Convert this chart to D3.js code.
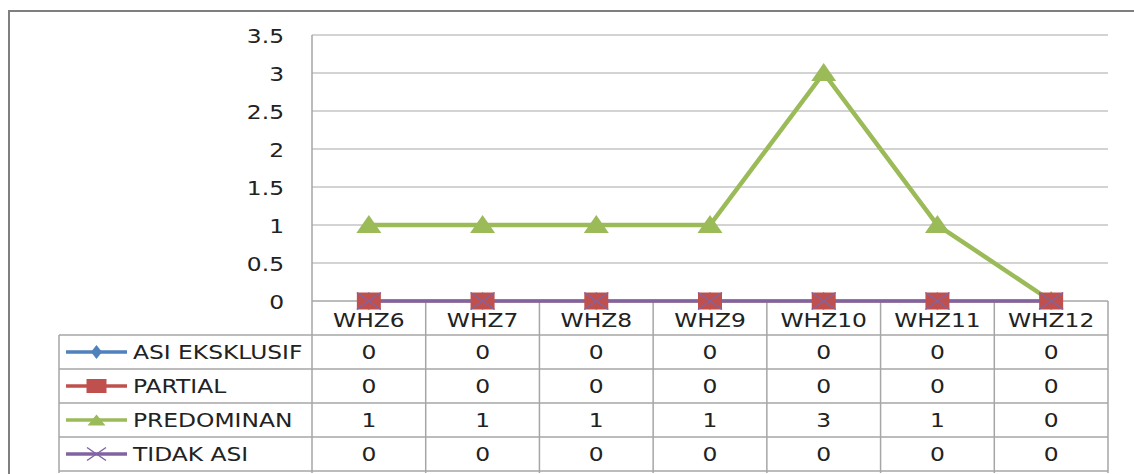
<!DOCTYPE html>
<html><head><meta charset="utf-8">
<script src="https://cdn.jsdelivr.net/npm/d3@7"></script>
<style>html,body{margin:0;padding:0;background:#fff;}svg{display:block;}</style>
</head><body>
<script>
const categories = ["WHZ6","WHZ7","WHZ8","WHZ9","WHZ10","WHZ11","WHZ12"];
const asiEksklusif = [0,0,0,0,0,0,0];
const partial = [0,0,0,0,0,0,0];
const predominan = [1,1,1,1,3,1,0];
const tidakAsi = [0,0,0,0,0,0,0];
const seriesNames = ["ASI EKSKLUSIF","PARTIAL","PREDOMINAN","TIDAK ASI"];
const yTicks = [0,0.5,1,1.5,2,2.5,3,3.5];

const series = [
  {name: seriesNames[0], values: asiEksklusif, color: "#4F81BD", marker: "diamond"},
  {name: seriesNames[1], values: partial, color: "#C0504D", marker: "square"},
  {name: seriesNames[2], values: predominan, color: "#9BBB59", marker: "triangle"},
  {name: seriesNames[3], values: tidakAsi, color: "#8064A2", marker: "x"}
];

const W = 1134, H = 474;
const svg = d3.select("body").append("svg").attr("width", W).attr("height", H);

const plotL = 312, plotR = 1108, plotT = 35, plotB = 301;
const x = d3.scaleBand().domain(categories).range([plotL, plotR]);
const y = d3.scaleLinear().domain([0, 3.5]).range([plotB, plotT]);

const FS = 19, SX = 1.23, TXT = "#222222";
function label(g, tx, ty, str, anchor) {
  g.append("text").attr("transform", `translate(${tx},${ty}) scale(${SX},1)`)
    .attr("text-anchor", anchor || "middle")
    .attr("font-family", "DejaVu Sans, sans-serif").attr("font-size", FS)
    .attr("fill", TXT).text(str);
}

// outer frame
svg.append("path").attr("d", `M9,${H} L9,11 L${W},11`).attr("fill", "none")
  .attr("stroke", "#7f7f7f").attr("stroke-width", 2);

// gridlines
const grid = svg.append("g");
grid.selectAll("line").data(yTicks.filter(t => t > 0)).join("line")
  .attr("x1", plotL).attr("x2", plotR).attr("y1", d => y(d)).attr("y2", d => y(d))
  .attr("stroke", "#c4c4c4").attr("stroke-width", 1.5);

// y-axis via d3 axis
const yAxis = svg.append("g").attr("transform", `translate(${plotL},0)`)
  .call(d3.axisLeft(y).tickValues(yTicks).tickSize(0).tickPadding(0).tickFormat(d => String(d)));
yAxis.select(".domain").remove();
yAxis.selectAll(".tick text").remove();
yAxis.selectAll(".tick").each(function(d) {
  label(d3.select(this), -28, 7, String(d), "end");
});

// table
const rowH = 34;
const headerT = plotB, headerB = plotB + rowH;
const tableL = 59;
const tg = svg.append("g");
const lineC = "#a6a6a6";
const tableB = headerB + rowH * series.length;
const colEdges = categories.map(c => x(c)).concat([plotR]);
tg.selectAll("line.v").data(colEdges).join("line").attr("class", "v")
  .attr("x1", d => d).attr("x2", d => d)
  .attr("y1", (d, i) => i === 0 ? plotT : headerT).attr("y2", tableB + 2)
  .attr("stroke", lineC).attr("stroke-width", 1.5);
tg.append("line").attr("x1", tableL).attr("x2", tableL).attr("y1", headerB).attr("y2", tableB + 2)
  .attr("stroke", lineC).attr("stroke-width", 1.5);
const rowLines = d3.range(series.length + 1).map(i => headerB + i * rowH);
tg.selectAll("line.h").data(rowLines).join("line").attr("class", "h")
  .attr("x1", tableL).attr("x2", plotR).attr("y1", d => d).attr("y2", d => d)
  .attr("stroke", lineC).attr("stroke-width", 1.5);
tg.append("line").attr("x1", plotL).attr("x2", plotR).attr("y1", y(0)).attr("y2", y(0))
  .attr("stroke", lineC).attr("stroke-width", 1.5);

categories.forEach(c => label(tg, x(c) + x.bandwidth() / 2, headerT + 26, c));
series.forEach((s, si) => {
  const cy = headerB + si * rowH + 24;
  s.values.forEach((v, i) => label(tg, x(categories[i]) + x.bandwidth() / 2, cy, String(v)));
});

function markerPath(type, w, h) {
  const a = w / 2, b = h / 2;
  if (type === "diamond") return `M0,${-b} L${a},0 L0,${b} L${-a},0 Z`;
  if (type === "square") return `M${-a},${-b} H${a} V${b} H${-a} Z`;
  if (type === "triangle") return `M0,${-b} L${a},${b} L${-a},${b} Z`;
  return `M${-a},${-b} L${a},${b} M${-a},${b} L${a},${-b}`;
}
const mSize = {diamond: [15, 18], square: [24, 17], triangle: [25, 18], x: [24, 17]};

series.forEach((s, si) => {
  const cy = headerB + si * rowH + rowH / 2;
  const g = svg.append("g");
  g.append("line").attr("x1", 66).attr("x2", 127).attr("y1", cy).attr("y2", cy)
    .attr("stroke", s.color).attr("stroke-width", 3.5);
  const ls = {diamond: [11, 14], square: [20, 14], triangle: [18, 11], x: [19, 13]}[s.marker];
  g.append("path").attr("transform", `translate(96.5,${cy})`).attr("d", markerPath(s.marker, ls[0], ls[1]))
    .attr("fill", s.marker === "x" ? "none" : s.color)
    .attr("stroke", s.marker === "x" ? s.color : "none").attr("stroke-width", 1.5);
  label(g, 133, cy + 7, s.name, "start");
});

const xc = (d, i) => x(categories[i]) + x.bandwidth() / 2;
const lineGen = d3.line().x(xc).y(d => y(d));
const lg = svg.append("g");
series.forEach(s => {
  lg.append("path").datum(s.values).attr("d", lineGen).attr("fill", "none")
    .attr("stroke", s.color).attr("stroke-width", s.marker === "triangle" ? 4.5 : 3)
    .attr("stroke-linejoin", "miter");
});
const order = [0, 2, 1, 3];
order.forEach(si => {
  const s = series[si];
  const sz = mSize[s.marker];
  svg.append("g").selectAll("path").data(s.values).join("path")
    .attr("transform", (d, i) => `translate(${xc(d, i)},${y(d) + (s.marker === "triangle" ? -1 : 0)})`)
    .attr("d", markerPath(s.marker, sz[0], sz[1]))
    .attr("fill", s.marker === "x" ? "none" : s.color)
    .attr("stroke", s.marker === "x" ? s.color : "none").attr("stroke-width", 1.5);
});
</script>
</body></html>
